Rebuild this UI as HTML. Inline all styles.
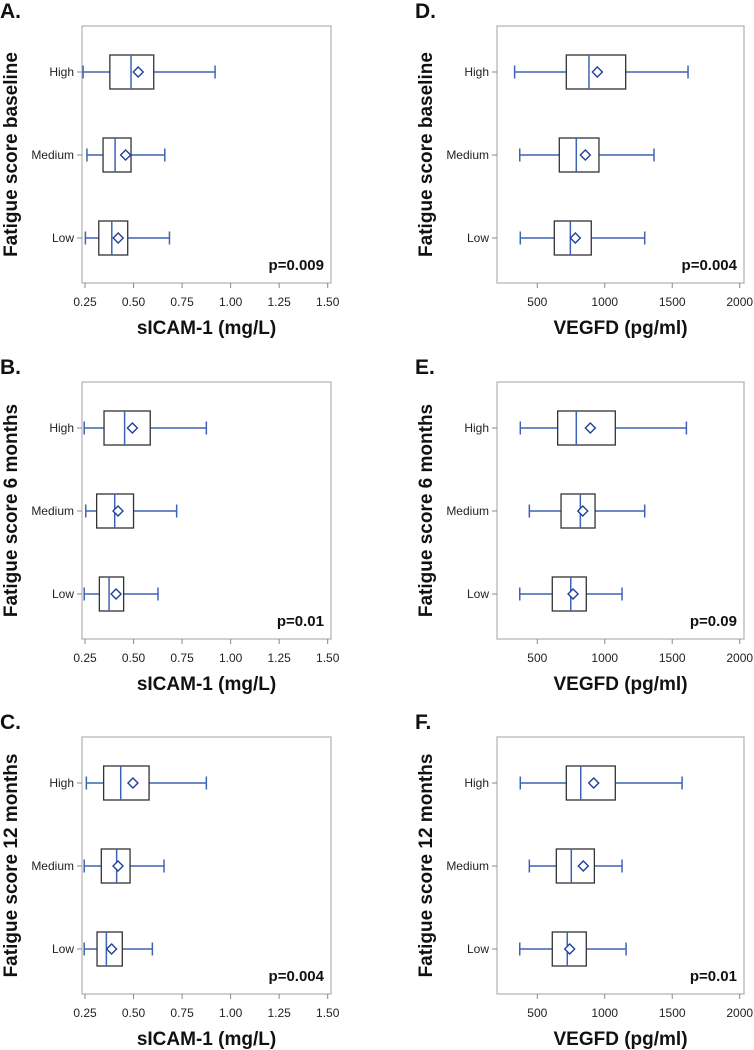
<!DOCTYPE html>
<html><head><meta charset="utf-8"><style>
html,body{margin:0;padding:0;background:#fff;}
svg{display:block;font-family:"Liberation Sans",Arial,sans-serif;}
</style></head><body>
<svg id="fig" width="754" height="1050" viewBox="0 0 754 1050" xmlns="http://www.w3.org/2000/svg"></svg>
<script>
const categories = ["High","Medium","Low"];
// each row: [min, q1, median, mean, q3, max] for High, Medium, Low
const panelA = [[0.24,0.378,0.487,0.524,0.604,0.92],[0.26,0.343,0.405,0.459,0.487,0.661],[0.252,0.321,0.388,0.421,0.47,0.685]];
const panelB = [[0.246,0.348,0.454,0.494,0.586,0.875],[0.254,0.31,0.403,0.42,0.5,0.722],[0.246,0.324,0.374,0.41,0.449,0.626]];
const panelC = [[0.257,0.346,0.434,0.497,0.58,0.875],[0.246,0.334,0.413,0.42,0.482,0.657],[0.246,0.312,0.36,0.387,0.442,0.597]];
const panelD = [[332,715,883,945,1155,1617],[370,663,789,856,957,1365],[374,626,745,782,900,1296]];
const panelE = [[374,651,789,893,1078,1605],[441,676,819,837,928,1296],[370,611,748,765,863,1128]];
const panelF = [[374,715,822,918,1078,1573],[441,641,752,841,923,1128],[370,611,722,740,863,1158]];
const icamTicks = [0.25,0.5,0.75,1.0,1.25,1.5];
const icamTickLabels = ["0.25","0.50","0.75","1.00","1.25","1.50"];
const vegfTicks = [500,1000,1500,2000];
const vegfTickLabels = ["500","1000","1500","2000"];
const pValues = ["p=0.009","p=0.01","p=0.004","p=0.004","p=0.09","p=0.01"];
const panelLetters = ["A.","B.","C.","D.","E.","F."];
const yTitles = ["Fatigue score baseline","Fatigue score 6 months","Fatigue score 12 months","Fatigue score baseline","Fatigue score 6 months","Fatigue score 12 months"];

const NS="http://www.w3.org/2000/svg";
const svg=document.getElementById('fig');
function mk(tag,attrs,parent,text){const e=document.createElementNS(NS,tag);for(const k in attrs)e.setAttribute(k,attrs[k]);if(text!==undefined)e.textContent=text;(parent||svg).appendChild(e);return e;}

const tops=[26,382,737];
const panels=[
 {data:panelA,fx:82,ticks:icamTicks,labels:icamTickLabels,d0:0.25,d1:1.5,p0:85,p1:327.7,xt:"sICAM-1 (mg/L)"},
 {data:panelB,fx:82,ticks:icamTicks,labels:icamTickLabels,d0:0.25,d1:1.5,p0:85,p1:327.7,xt:"sICAM-1  (mg/L)"},
 {data:panelC,fx:82,ticks:icamTicks,labels:icamTickLabels,d0:0.25,d1:1.5,p0:85,p1:327.7,xt:"sICAM-1  (mg/L)"},
 {data:panelD,fx:497,ticks:vegfTicks,labels:vegfTickLabels,d0:500,d1:2000,p0:537.3,p1:739.7,xt:"VEGFD (pg/ml)"},
 {data:panelE,fx:497,ticks:vegfTicks,labels:vegfTickLabels,d0:500,d1:2000,p0:537.3,p1:739.7,xt:"VEGFD (pg/ml)"},
 {data:panelF,fx:497,ticks:vegfTicks,labels:vegfTickLabels,d0:500,d1:2000,p0:537.3,p1:739.7,xt:"VEGFD (pg/ml)"}
];
const FW_L=249, FW_R=247, FH=257, catOff=[46,129,212];
const BLUE="#3f63b4", DBLUE="#22409c";

panels.forEach((p,i)=>{
  const top=tops[i%3];
  const fw=i<3?FW_L:FW_R;
  const g=mk('g',{});
  
  
  const xs=v=>p.p0+(v-p.d0)*(p.p1-p.p0)/(p.d1-p.d0);
  const ys=k=>top+catOff[k];
  const lbl=mk('text',{x:i<3?0:415,y:top-8,'font-size':21,'font-weight':'bold',fill:'#111'},g,panelLetters[i]);
  
  
  const fr=mk('rect',{x:p.fx,y:top,width:fw,height:FH,fill:'none',stroke:'#b0b0b0','stroke-width':1.2},g);
  
  
  p.ticks.forEach((t,j)=>{
    const x=xs(t);
    mk('line',{x1:x,x2:x,y1:top+FH,y2:top+FH+5,stroke:'#888'},g);
    const tl=mk('text',{x:x,y:top+FH+23,'font-size':12,'text-anchor':'middle',fill:'#222'},g,p.labels[j]);
    
    
  });
  const xt=mk('text',{x:p.fx+fw/2,y:top+FH+51,'font-size':19,'font-weight':'bold','text-anchor':'middle',fill:'#111'},g,p.xt);
  
  
  const cx=p.fx-65, cy=top+FH/2;
  const yt=mk('text',{x:cx,y:cy,'font-size':19,'font-weight':'bold','text-anchor':'middle',fill:'#111',transform:`rotate(-90 ${cx} ${cy})`},g,yTitles[i]);
  
  
  const pv=mk('text',{x:p.fx+fw-7,y:top+FH-13,'font-size':15,'font-weight':'bold','text-anchor':'end',fill:'#111'},g,pValues[i]);
  
  
  categories.forEach((c,k)=>{
    const y=ys(k), d=p.data[k];
    mk('line',{x1:p.fx-5,x2:p.fx,y1:y,y2:y,stroke:'#888'},g);
    const cl=mk('text',{x:p.fx-8,y:y+4,'font-size':12,'text-anchor':'end',fill:'#222'},g,c);
    
    
    const bg=mk('g',{},g);
    
    
    mk('line',{x1:xs(d[0]),x2:xs(d[1]),y1:y,y2:y,stroke:BLUE,'stroke-width':1.5},bg);
    mk('line',{x1:xs(d[4]),x2:xs(d[5]),y1:y,y2:y,stroke:BLUE,'stroke-width':1.5},bg);
    mk('line',{x1:xs(d[0]),x2:xs(d[0]),y1:y-6.5,y2:y+6.5,stroke:BLUE,'stroke-width':1.5},bg);
    mk('line',{x1:xs(d[5]),x2:xs(d[5]),y1:y-6.5,y2:y+6.5,stroke:BLUE,'stroke-width':1.5},bg);
    mk('rect',{x:xs(d[1]),y:y-17,width:xs(d[4])-xs(d[1]),height:34,fill:'none',stroke:'#333','stroke-width':1.3},bg);
    mk('line',{x1:xs(d[2]),x2:xs(d[2]),y1:y-17,y2:y+17,stroke:BLUE,'stroke-width':1.5},bg);
    const m=xs(d[3]);
    mk('polygon',{points:`${m-5},${y} ${m},${y-5} ${m+5},${y} ${m},${y+5}`,fill:'#fff',stroke:DBLUE,'stroke-width':1.4},bg);
  });
});
</script>
</body></html>
